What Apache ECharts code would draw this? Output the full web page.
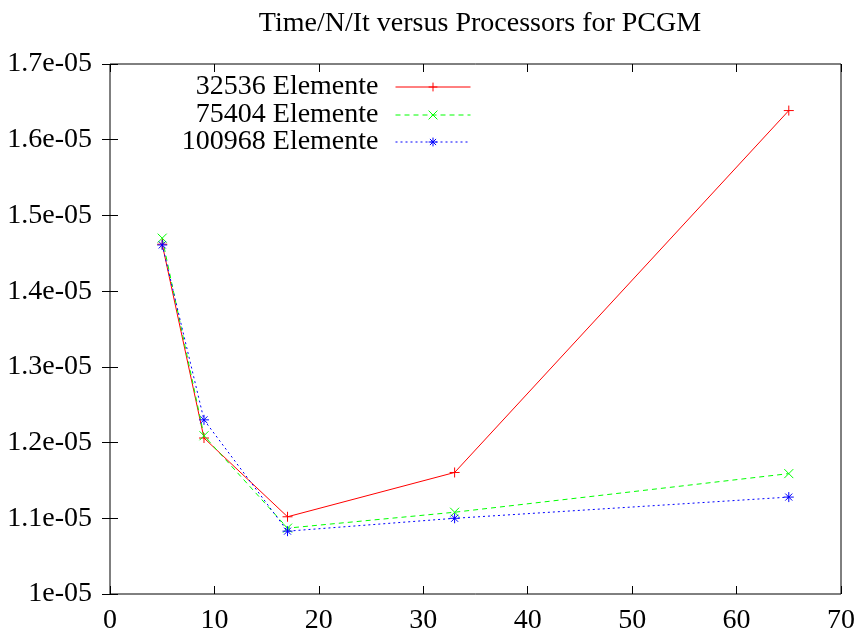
<!DOCTYPE html>
<html>

<head>
  <meta charset="utf-8">
  <script src="https://cdn.jsdelivr.net/npm/echarts@6/dist/echarts.min.js"></script>
</head>

<body style="margin:0">
  <div id="chart" style="width: 859px;height:635px;"></div>
  <script type="text/javascript">
    // processors on the x axis
    var processors = [5, 9, 17, 33, 65];
    // time/N/It per mesh size
    var elem32536 = [1.462e-5, 1.206e-5, 1.102e-5, 1.1605e-5, 1.6385e-5];
    var elem75404 = [1.470e-5, 1.209e-5, 1.087e-5, 1.108e-5, 1.159e-5];
    var elem100968 = [1.461e-5, 1.230e-5, 1.083e-5, 1.100e-5, 1.128e-5];
    var seriesNames = ['32536 Elemente', '75404 Elemente', '100968 Elemente'];

    var font = 'Liberation Serif';
    var plusPath = 'path://M0,5L10,5M5,0L5,10';
    var crossPath = 'path://M0,0L10,10M10,0L0,10';
    var starPath = 'path://M0,5L10,5M5,0L5,10M1.5,1.5L8.5,8.5M8.5,1.5L1.5,8.5';

    function pairs(ys) {
      var out = [];
      for (var i = 0; i < processors.length; i++) out.push([processors[i], ys[i]]);
      return out;
    }

    function yLabel(v) {
      var m = Math.round(v * 1e6) / 10;
      return (m === 1 ? '1' : m.toFixed(1)) + 'e-05';
    }

    function makeSeries(name, ys, color, type, symbol, size) {
      return {
        name: name,
        type: 'line',
        data: pairs(ys),
        symbol: symbol,
        symbolSize: size,
        showAllSymbol: true,
        lineStyle: { color: color, width: 1, type: type },
        itemStyle: { color: color, borderColor: color, borderWidth: 1 },
        emphasis: { disabled: true },
        animation: false
      };
    }

    function legendFor(name, top) {
      return {
        data: [name],
        right: 383,
        top: top,
        align: 'right',
        itemWidth: 75,
        itemHeight: 11,
        itemGap: 0,
        lineStyle: { width: 1 },
        itemStyle: { borderWidth: 1 },
        textStyle: { fontFamily: font, fontSize: 28, color: '#000', padding: [0, 12, 0, 0] },
        selectedMode: false
      };
    }

    var chart = echarts.init(document.getElementById('chart'));
    var axisTick = { inside: true, length: 8, lineStyle: { color: '#000' } };
    var option = {
      backgroundColor: '#fff',
      animation: false,
      title: {
        text: 'Time/N/It versus Processors for PCGM',
        left: 475,
        textAlign: 'center',
        top: 5,
        textStyle: { fontFamily: font, fontSize: 28, fontWeight: 'normal', color: '#000' }
      },
      legend: [legendFor(seriesNames[0], 68), legendFor(seriesNames[1], 96), legendFor(seriesNames[2], 123)],
      grid: {
        left: 110, right: 18, top: 64, bottom: 39,
        show: true, borderColor: '#000', borderWidth: 1, backgroundColor: 'transparent'
      },
      xAxis: [{
        type: 'value', min: 0, max: 70, interval: 10,
        axisLine: { show: false }, axisTick: axisTick, splitLine: { show: false },
        axisLabel: { fontFamily: font, fontSize: 28, color: '#000', margin: 13 }
      }, {
        type: 'value', min: 0, max: 70, interval: 10, position: 'top',
        axisLine: { show: false }, axisTick: axisTick, splitLine: { show: false },
        axisLabel: { show: false }
      }],
      yAxis: [{
        type: 'value', min: 1e-5, max: 1.7e-5, interval: 1e-6,
        axisLine: { show: false }, axisTick: axisTick, splitLine: { show: false },
        axisLabel: { fontFamily: font, fontSize: 28, color: '#000', margin: 18, formatter: yLabel }
      }, {
        type: 'value', min: 1e-5, max: 1.7e-5, interval: 1e-6, position: 'right',
        axisLine: { show: false }, axisTick: axisTick, splitLine: { show: false },
        axisLabel: { show: false }
      }],
      series: [
        makeSeries(seriesNames[0], elem32536, '#ff0000', 'solid', plusPath, 10),
        makeSeries(seriesNames[1], elem75404, '#00ff00', [5, 4], crossPath, 9),
        makeSeries(seriesNames[2], elem100968, '#0000ff', [2, 3], starPath, 10)
      ]
    };
    chart.setOption(option);
  </script>
</body>

</html>
